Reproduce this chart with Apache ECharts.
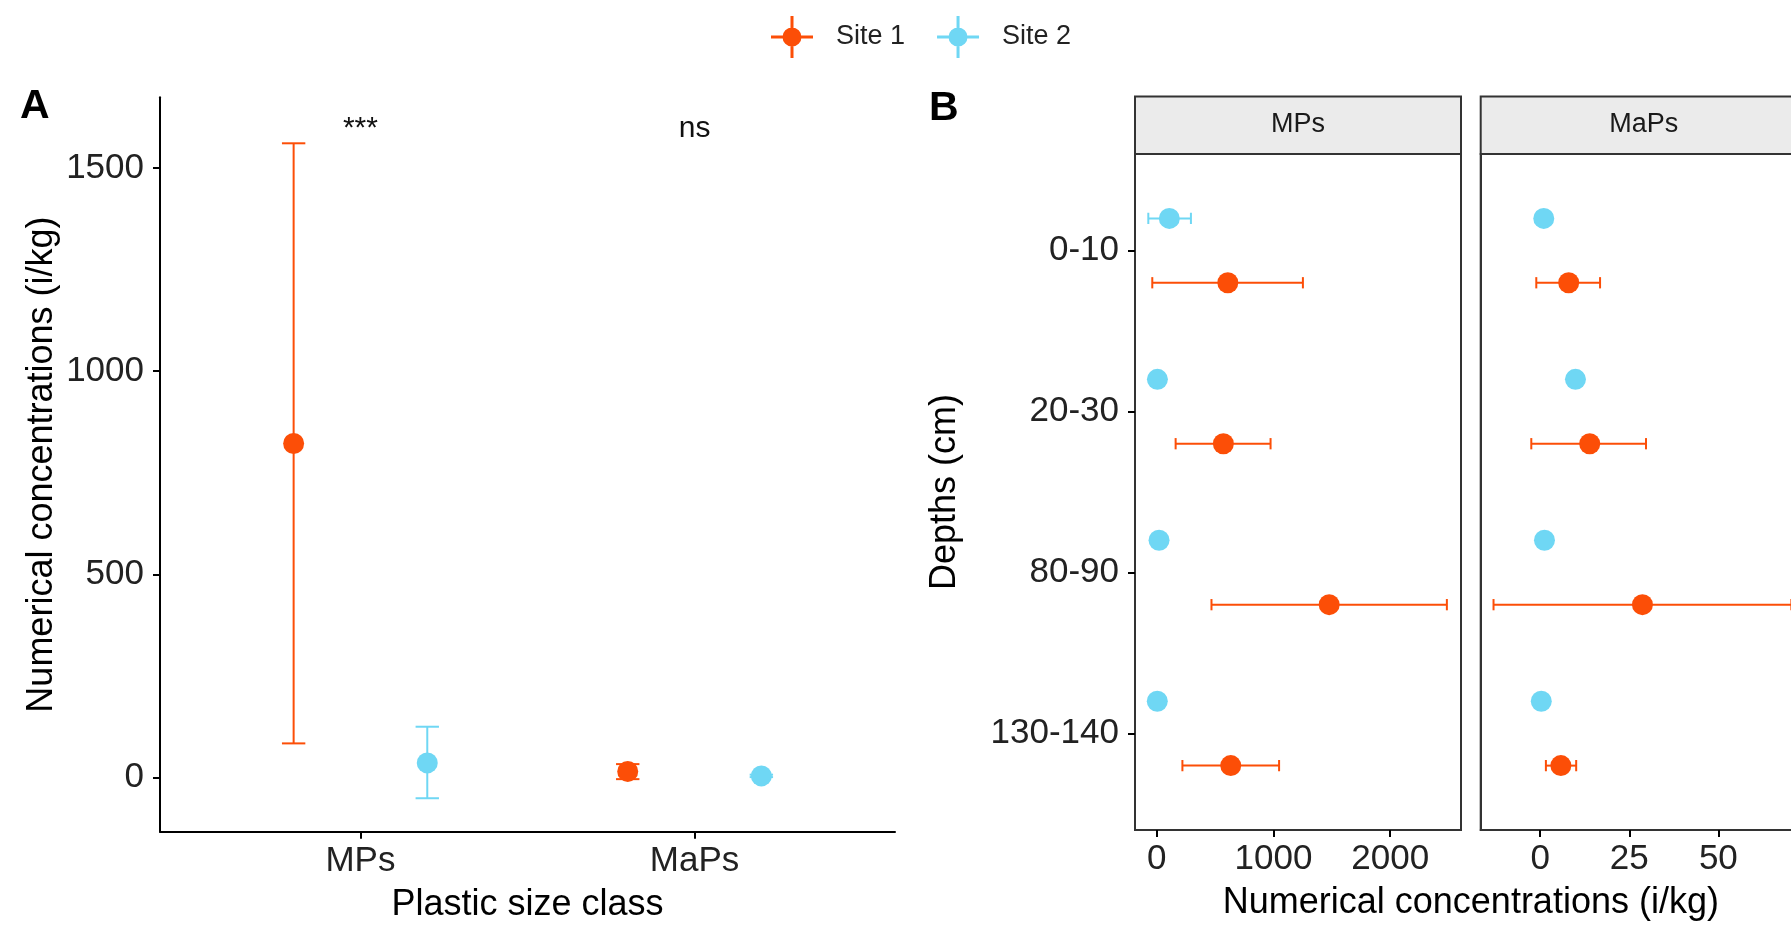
<!DOCTYPE html>
<html>
<head>
<meta charset="utf-8">
<script src="https://cdn.jsdelivr.net/npm/echarts@6/dist/echarts.min.js"></script>
<style>
html,body{margin:0;padding:0;background:#fff;}
#chart{width:1791px;height:925px;}
</style>
</head>
<body>
<div id="chart"></div>
<script>
// ---------- data ----------
const categories = ['MPs', 'MaPs'];
const sites = ['Site 1', 'Site 2'];
const annotations = ['***', 'ns'];

// Panel A: mean and error limits per plastic size class
const aSite1Mean = [822, 15];
const aSite1Low  = [84, -4];
const aSite1High = [1561, 33];
const aSite2Mean = [36, 4];
const aSite2Low  = [-51, 1];
const aSite2High = [125, 7];
const aTicks = [0, 500, 1000, 1500];

// Panel B: per depth
const depths = ['0-10', '20-30', '80-90', '130-140'];
const facets = ['MPs', 'MaPs'];
const bMPsSite1Mean = [609, 571, 1477, 634];
const bMPsSite1Low  = [-38, 162, 469, 220];
const bMPsSite1High = [1252, 975, 2485, 1048];
const bMPsSite2Mean = [108, 6, 20, 5];
const bMPsSite2Low  = [-72, 0, 10, 0];
const bMPsSite2High = [293, 12, 30, 10];
const bMaPsSite1Mean = [8.0, 13.9, 28.7, 5.8];
const bMaPsSite1Low  = [-1.1, -2.5, -13.1, 1.6];
const bMaPsSite1High = [16.8, 29.7, 70.5, 10.1];
const bMaPsSite2Mean = [1.0, 9.9, 1.2, 0.3];
const bMaPsSite2Low  = [0.6, 9.5, 0.8, 0.0];
const bMaPsSite2High = [1.4, 10.3, 1.6, 0.6];
const bMPsTicks = [0, 1000, 2000];
const bMaPsTicks = [0, 25, 50, 75];

// ---------- styling / layout ----------
const FONT = '"Liberation Sans", Arial, Helvetica, sans-serif';
const RED = '#FC4E07';
const CYAN = '#6FD7F4';
const dodge = [-0.2, 0.2];
const capUnits = 0.07;
const TICK_FS = 35, TITLE_FS = 36;

function buildA(mean, low, high, s) {
  return mean.map((m, i) => [i + 1 + dodge[s], m, low[i], high[i]]);
}
function buildB(mean, low, high, s) {
  // Site 2 drawn above the depth tick, Site 1 below (inverse axis)
  const d = s === 0 ? 0.2 : -0.2;
  return mean.map((m, i) => [m, i + 1 + d, low[i], high[i]]);
}

function renderVertical(params, api) {
  const x = api.value(0), m = api.value(1), lo = api.value(2), hi = api.value(3);
  const pm = api.coord([x, m]), pl = api.coord([x, lo]), ph = api.coord([x, hi]);
  const half = api.size([capUnits, 0])[0] / 2;
  const c = api.visual('color');
  const st = { stroke: c, lineWidth: 2 };
  return { type: 'group', children: [
    { type: 'line', shape: { x1: pm[0], y1: pl[1], x2: pm[0], y2: ph[1] }, style: st },
    { type: 'line', shape: { x1: pm[0] - half, y1: pl[1], x2: pm[0] + half, y2: pl[1] }, style: st },
    { type: 'line', shape: { x1: pm[0] - half, y1: ph[1], x2: pm[0] + half, y2: ph[1] }, style: st },
    { type: 'circle', shape: { cx: pm[0], cy: pm[1], r: 10.5 }, style: { fill: c } }
  ]};
}
function renderHorizontal(params, api) {
  const m = api.value(0), y = api.value(1), lo = api.value(2), hi = api.value(3);
  const pm = api.coord([m, y]), pl = api.coord([lo, y]), ph = api.coord([hi, y]);
  const half = api.size([0, capUnits])[1] / 2;
  const c = api.visual('color');
  const st = { stroke: c, lineWidth: 2 };
  return { type: 'group', children: [
    { type: 'line', shape: { x1: pl[0], y1: pm[1], x2: ph[0], y2: pm[1] }, style: st },
    { type: 'line', shape: { x1: pl[0], y1: pm[1] - half, x2: pl[0], y2: pm[1] + half }, style: st },
    { type: 'line', shape: { x1: ph[0], y1: pm[1] - half, x2: ph[0], y2: pm[1] + half }, style: st },
    { type: 'circle', shape: { cx: pm[0], cy: pm[1], r: 10.5 }, style: { fill: c } }
  ]};
}
function renderAnnot(params, api) {
  const p = api.coord([api.value(0), api.value(1)]);
  return { type: 'text', x: p[0], y: p[1], style: {
    text: annotations[params.dataIndex], fill: '#111', font: '30px ' + FONT,
    textAlign: 'center', textVerticalAlign: 'middle' } };
}

const gridA = { left: 160, top: 97.3, width: 735, height: 734.5 };
const gridB1 = { left: 1135, top: 154, width: 326, height: 676 };
const gridB2 = { left: 1480.7, top: 154, width: 326, height: 676 };

const axisLineStyle = { color: '#000', width: 2 };
const tickStyle = { show: true, length: 7, lineStyle: { color: '#000', width: 2 } };
const labelStyle = { color: '#222', fontSize: TICK_FS, fontFamily: FONT };
const nameStyle = { color: '#000', fontSize: TITLE_FS, fontFamily: FONT };
const plain = v => String(v);

const legendIcon = 'path://M0,19.5H42V22.5H0Z M19.5,0H22.5V42H19.5Z M21,11.5A9.5,9.5 0 1,1 20.99,11.5Z';

const option = {
  animation: false,
  backgroundColor: '#fff',
  textStyle: { fontFamily: FONT },
  legend: {
    left: 766, top: 11, itemWidth: 42, itemHeight: 42, itemGap: 32,
    data: sites.map(s => ({ name: s, icon: legendIcon })),
    textStyle: { fontSize: 27, color: '#222', fontFamily: FONT, padding: [0, 0, 0, 18] }
  },
  grid: [
    Object.assign({ outerBoundsMode: 'none', containLabel: false }, gridA),
    Object.assign({ outerBoundsMode: 'none', containLabel: false, show: true, borderColor: '#333', borderWidth: 2 }, gridB1),
    Object.assign({ outerBoundsMode: 'none', containLabel: false, show: true, borderColor: '#333', borderWidth: 2 }, gridB2)
  ],
  xAxis: [
    { gridIndex: 0, type: 'value', min: 0.4, max: 2.6,
      axisLine: { show: true, onZero: false, lineStyle: axisLineStyle },
      axisTick: Object.assign({ customValues: categories.map((c, i) => i + 1) }, tickStyle),
      axisLabel: Object.assign({ customValues: categories.map((c, i) => i + 1), margin: 12,
        formatter: v => categories[Math.round(v) - 1] || '' }, labelStyle),
      splitLine: { show: false },
      name: 'Plastic size class', nameLocation: 'middle', nameGap: 55, nameTextStyle: nameStyle },
    { gridIndex: 1, type: 'value', min: -186, max: 2606,
      axisLine: { show: true, onZero: false, lineStyle: { color: '#333', width: 2 } },
      axisTick: Object.assign({ customValues: bMPsTicks }, tickStyle),
      axisLabel: Object.assign({ customValues: bMPsTicks, margin: 12, formatter: plain }, labelStyle),
      splitLine: { show: false } },
    { gridIndex: 2, type: 'value', min: -16.7, max: 74.8,
      axisLine: { show: true, onZero: false, lineStyle: { color: '#333', width: 2 } },
      axisTick: Object.assign({ customValues: bMaPsTicks }, tickStyle),
      axisLabel: Object.assign({ customValues: bMaPsTicks, margin: 12, formatter: plain }, labelStyle),
      splitLine: { show: false } }
  ],
  yAxis: [
    { gridIndex: 0, type: 'value', min: -133.6, max: 1674.2,
      axisLine: { show: true, onZero: false, lineStyle: axisLineStyle },
      axisTick: Object.assign({ customValues: aTicks }, tickStyle),
      axisLabel: Object.assign({ customValues: aTicks, margin: 16, formatter: plain }, labelStyle),
      splitLine: { show: false },
      name: 'Numerical concentrations (i/kg)', nameLocation: 'middle', nameGap: 100, nameTextStyle: nameStyle },
    { gridIndex: 1, type: 'value', min: 0.4, max: 4.6, inverse: true,
      axisLine: { show: true, onZero: false, lineStyle: { color: '#333', width: 2 } },
      axisTick: Object.assign({ customValues: depths.map((d, i) => i + 1) }, tickStyle),
      axisLabel: Object.assign({ customValues: depths.map((d, i) => i + 1), margin: 16,
        formatter: v => depths[Math.round(v) - 1] || '' }, labelStyle),
      splitLine: { show: false },
      name: 'Depths (cm)', nameLocation: 'middle', nameGap: 172, nameTextStyle: nameStyle },
    { gridIndex: 2, type: 'value', min: 0.4, max: 4.6, inverse: true,
      axisLine: { show: true, onZero: false, lineStyle: { color: '#333', width: 2 } },
      axisTick: { show: false }, axisLabel: { show: false }, splitLine: { show: false } }
  ],
  series: [
    { name: sites[0], type: 'custom', xAxisIndex: 0, yAxisIndex: 0, itemStyle: { color: RED },
      renderItem: renderVertical, encode: { x: 0, y: [1, 2, 3] }, data: buildA(aSite1Mean, aSite1Low, aSite1High, 0) },
    { name: sites[1], type: 'custom', xAxisIndex: 0, yAxisIndex: 0, itemStyle: { color: CYAN },
      renderItem: renderVertical, encode: { x: 0, y: [1, 2, 3] }, data: buildA(aSite2Mean, aSite2Low, aSite2High, 1) },
    { name: 'annot', type: 'custom', xAxisIndex: 0, yAxisIndex: 0, renderItem: renderAnnot,
      encode: { x: 0, y: 1 }, data: categories.map((c, i) => [i + 1, 1597]) },
    { name: sites[0], type: 'custom', xAxisIndex: 1, yAxisIndex: 1, itemStyle: { color: RED },
      renderItem: renderHorizontal, encode: { x: [0, 2, 3], y: 1 }, data: buildB(bMPsSite1Mean, bMPsSite1Low, bMPsSite1High, 0) },
    { name: sites[1], type: 'custom', xAxisIndex: 1, yAxisIndex: 1, itemStyle: { color: CYAN },
      renderItem: renderHorizontal, encode: { x: [0, 2, 3], y: 1 }, data: buildB(bMPsSite2Mean, bMPsSite2Low, bMPsSite2High, 1) },
    { name: sites[0], type: 'custom', xAxisIndex: 2, yAxisIndex: 2, itemStyle: { color: RED },
      renderItem: renderHorizontal, encode: { x: [0, 2, 3], y: 1 }, data: buildB(bMaPsSite1Mean, bMaPsSite1Low, bMaPsSite1High, 0) },
    { name: sites[1], type: 'custom', xAxisIndex: 2, yAxisIndex: 2, itemStyle: { color: CYAN },
      renderItem: renderHorizontal, encode: { x: [0, 2, 3], y: 1 }, data: buildB(bMaPsSite2Mean, bMaPsSite2Low, bMaPsSite2High, 1) }
  ],
  graphic: [
    { type: 'text', left: 20, top: 86, style: { text: 'A', font: 'bold 41px ' + FONT, fill: '#000' } },
    { type: 'text', left: 929, top: 88, style: { text: 'B', font: 'bold 41px ' + FONT, fill: '#000' } },
    { type: 'rect', shape: { x: gridB1.left, y: 96.5, width: gridB1.width, height: 57.5 },
      style: { fill: '#EBEBEB', stroke: '#333', lineWidth: 2 } },
    { type: 'rect', shape: { x: gridB2.left, y: 96.5, width: gridB2.width, height: 57.5 },
      style: { fill: '#EBEBEB', stroke: '#333', lineWidth: 2 } },
    { type: 'text', x: gridB1.left + gridB1.width / 2, y: 125,
      style: { text: facets[0], font: '27px ' + FONT, fill: '#1a1a1a', textAlign: 'center', textVerticalAlign: 'middle' } },
    { type: 'text', x: gridB2.left + gridB2.width / 2, y: 125,
      style: { text: facets[1], font: '27px ' + FONT, fill: '#1a1a1a', textAlign: 'center', textVerticalAlign: 'middle' } },
    { type: 'text', x: (gridB1.left + gridB2.left + gridB2.width) / 2, y: 903,
      style: { text: 'Numerical concentrations (i/kg)', font: TITLE_FS + 'px ' + FONT, fill: '#000', textAlign: 'center', textVerticalAlign: 'middle' } }
  ]
};

const chart = echarts.init(document.getElementById('chart'), null, { renderer: 'canvas' });
chart.setOption(option);
</script>
</body>
</html>
